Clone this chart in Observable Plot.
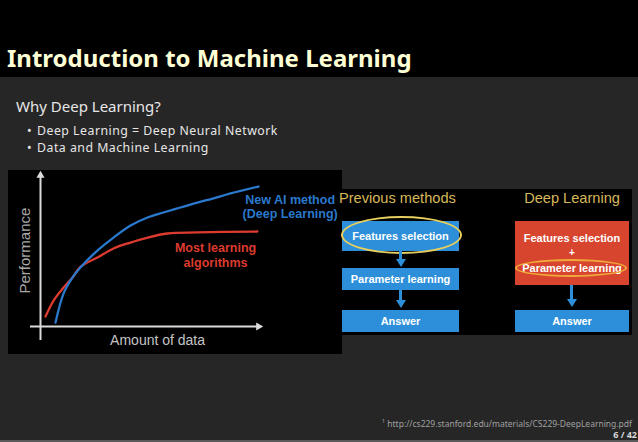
<!DOCTYPE html>
<html>
<head>
<meta charset="utf-8">
<script src="https://cdn.jsdelivr.net/npm/d3@7"></script>
<script src="https://cdn.jsdelivr.net/npm/@observablehq/plot@0.6"></script>
<style>
  html, body { margin: 0; padding: 0; background: #262626; }
  #slide { position: relative; width: 638px; height: 442px; background: #262626; overflow: hidden; font-family: "Noto Sans", sans-serif; }
  .abs { position: absolute; white-space: nowrap; }
  #titlebar { left: 0; top: 0; width: 638px; height: 77px; background: #000; }
  #title { left: 7px; top: 41px; font-size: 24px; font-weight: 700; color: #ffffd6; }
  #sub { left: 16px; top: 96px; font-size: 15px; color: #e6e6e6; }
  #bullets { left: 27px; top: 122px; font-size: 12.3px; letter-spacing: 0.5px; color: #e6e6e6; line-height: 17px; }
  .dot { display: inline-block; width: 10px; letter-spacing: 0; }
  #chart { left: 8px; top: 170px; width: 334px; height: 184px; background: #000; }
  #diagram { left: 339px; top: 189px; width: 293px; height: 146px; background: #000; }
  .hd { font-family: "Liberation Sans", sans-serif; font-size: 14.6px; color: #d6b85a; }
  .box { font-family: "Liberation Sans", sans-serif; font-weight: 700; color: #fff; font-size: 11px; display: flex; align-items: center; justify-content: center; }
  .blue { background: #2d8fd9; }
  .red { background: #d8452f; }
  .ell { border-radius: 50%; box-sizing: border-box; }
  .arrowline { background: #2d8fd9; width: 3px; }
  .arrowhead { width: 0; height: 0; border-left: 5px solid transparent; border-right: 5px solid transparent; border-top: 8px solid #2d8fd9; }
  #foot { right: 6px; top: 418px; font-size: 8.5px; color: #a0a0a0; line-height: 1; }
  #page { right: 1px; top: 430px; font-size: 9px; font-weight: 700; color: #d8d8d8; line-height: 1; }
  #bottomline { left: 0; top: 440px; width: 638px; height: 2px; background: #5a5a5a; }
</style>
</head>
<body>
<div id="slide">
  <div id="titlebar" class="abs"></div>
  <div id="title" class="abs">Introduction to Machine Learning</div>
  <div id="sub" class="abs">Why Deep Learning?</div>
  <div id="bullets" class="abs"><span class="dot">•</span>Deep Learning = Deep Neural Network<br><span class="dot">•</span>Data and Machine Learning</div>

  <div id="chart" class="abs"></div>

  <div id="diagram" class="abs"></div>
  <div class="abs hd" style="left:339px; top:190px; width:116px; text-align:center;">Previous methods</div>
  <div class="abs hd" style="left:515px; top:190px; width:114px; text-align:center;">Deep Learning</div>

  <div class="abs box blue" style="left:342px; top:221px; width:117px; height:30px;">Features selection</div>
  <div class="abs ell" style="left:341px; top:216px; width:121px; height:38px; border:2px solid #e6cf5e;"></div>
  <div class="abs arrowline" style="left:399px; top:251px; height:10px;"></div>
  <div class="abs arrowhead" style="left:396px; top:259px;"></div>
  <div class="abs box blue" style="left:342px; top:268px; width:117px; height:22px;">Parameter learning</div>
  <div class="abs arrowline" style="left:399px; top:290px; height:12px;"></div>
  <div class="abs arrowhead" style="left:396px; top:300px;"></div>
  <div class="abs box blue" style="left:342px; top:310px; width:117px; height:22px;">Answer</div>

  <div class="abs red" style="left:515px; top:221px; width:114px; height:64px;"></div>
  <div class="abs box" style="left:515px; top:230px; width:114px; height:16px;">Features selection</div>
  <div class="abs box" style="left:515px; top:246px; width:114px; height:12px; font-size:10px;">+</div>
  <div class="abs box" style="left:515px; top:260px; width:114px; height:16px;">Parameter learning</div>
  <div class="abs ell" style="left:515px; top:259px; width:112px; height:18px; border:2px solid #f0a83a;"></div>
  <div class="abs arrowline" style="left:570px; top:285px; height:16px;"></div>
  <div class="abs arrowhead" style="left:567px; top:299px;"></div>
  <div class="abs box blue" style="left:515px; top:310px; width:114px; height:22px;">Answer</div>

  <div id="foot" class="abs"><sup style="font-size:6px;">1</sup> http://cs229.stanford.edu/materials/CS229-DeepLearning.pdf</div>
  <div id="page" class="abs">6 / 42</div>
  <div id="bottomline" class="abs"></div>
</div>
<script>
// Curve values (amount of data, performance), arbitrary 0–10 units
const deepX = [0.69, 1.06, 1.47, 1.83, 2.61, 3.35, 4.13, 4.91, 5.64, 6.42, 7.20, 7.94, 8.72, 10.0];
const deepY = [0.26, 2.19, 3.25, 3.91, 5.03, 5.89, 6.69, 7.22, 7.55, 7.88, 8.21, 8.48, 8.81, 9.27];
const mostX = [0.23, 0.60, 1.06, 1.47, 1.83, 2.61, 3.35, 4.13, 4.91, 5.83, 7.20, 9.95];
const mostY = [0.66, 1.72, 2.58, 3.25, 3.95, 4.57, 5.17, 5.56, 5.89, 6.16, 6.23, 6.29];
const seriesLabels = ["New AI method\n(Deep Learning)", "Most learning\nalgorithms"];
const axisTitles = ["Amount of data", "Performance"];
const xAxisSpan = [-0.46, 10];
const yAxisSpan = [-0.93, 10];

const deep = deepX.map((x, i) => ({x, y: deepY[i]}));
const most = mostX.map((x, i) => ({x, y: mostY[i]}));
const axisColor = "#dcdcdc";

const chart = Plot.plot({
  width: 334,
  height: 184,
  marginLeft: 32,
  marginRight: 84,
  marginTop: 5,
  marginBottom: 28,
  x: {domain: [0, 10], axis: null},
  y: {domain: [0, 10], axis: null},
  style: {background: "#000", overflow: "visible", fontFamily: "Liberation Sans, sans-serif"},
  marks: [
    Plot.ruleY([0], {x1: xAxisSpan[0], x2: xAxisSpan[1], stroke: axisColor, strokeWidth: 2}),
    Plot.ruleX([0], {y1: yAxisSpan[0], y2: yAxisSpan[1], stroke: axisColor, strokeWidth: 2}),
    Plot.dot([{x: xAxisSpan[1], y: 0}], {x: "x", y: "y", symbol: "triangle", r: 3, fill: axisColor, stroke: null, rotate: 90}),
    Plot.dot([{x: 0, y: yAxisSpan[1]}], {x: "x", y: "y", symbol: "triangle", r: 3, fill: axisColor, stroke: null}),
    Plot.line(most, {x: "x", y: "y", stroke: "#dc3b2e", strokeWidth: 2.3, curve: "catmull-rom"}),
    Plot.line(deep, {x: "x", y: "y", stroke: "#2a79cc", strokeWidth: 2.3, curve: "catmull-rom"}),
    Plot.text([seriesLabels[0]], {x: 11.45, y: 7.95, text: d => d, fill: "#2a79cc", fontSize: 12.5, fontWeight: "bold", lineHeight: 1.1}),
    Plot.text([seriesLabels[1]], {x: 8.03, y: 4.74, text: d => d, fill: "#dc3b2e", fontSize: 12.5, fontWeight: "bold", lineHeight: 1.2}),
    Plot.text([axisTitles[0]], {x: 5.37, y: -0.93, text: d => d, fill: "#c4c4c4", fontSize: 14}),
    Plot.text([axisTitles[1]], {x: -0.69, y: 5.03, text: d => d, fill: "#a8a8a8", fontSize: 15, rotate: -90})
  ]
});
document.getElementById("chart").appendChild(chart);
</script>
</body>
</html>
